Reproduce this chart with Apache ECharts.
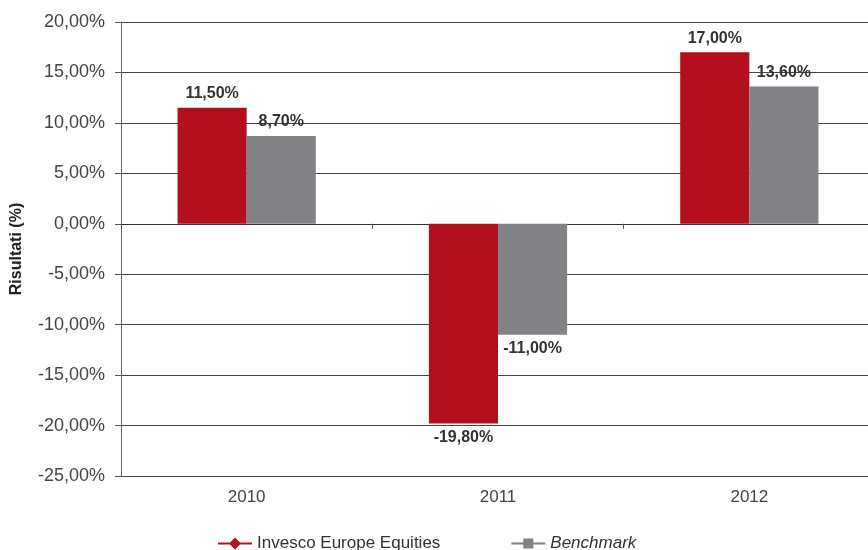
<!DOCTYPE html>
<html>
<head>
<meta charset="utf-8">
<script src="https://cdn.jsdelivr.net/npm/echarts@6/dist/echarts.min.js"></script>
<style>
  html, body { margin: 0; padding: 0; background: #fff; }
  #main { width: 868px; height: 550px; }
</style>
</head>
<body>
<div id="main"></div>
<script>
// dati
var years = ['2010', '2011', '2012']
var fundValues = [11.5, -19.8, 17.0]
var benchValues = [8.7, -11.0, 13.6]
var yTicks = { min: -25, max: 20, step: 5 }

var FONT = '"Liberation Sans", Arial, sans-serif'

function pct(v) {
  return v.toFixed(2).replace('.', ',') + '%'
}

// etichetta sopra per i positivi, sotto per i negativi
function withLabels(values) {
  return values.map(function (v) {
    return { value: v, label: { position: v >= 0 ? 'top' : 'bottom' } }
  })
}

var chart = echarts.init(document.getElementById('main'))

var barLabel = {
  show: true,
  distance: 6,
  fontFamily: FONT,
  fontSize: 16,
  fontWeight: 'bold',
  color: '#333',
  formatter: function (p) { return pct(p.value) },
}

var option = {
  animation: false,
  backgroundColor: '#fff',
  textStyle: { fontFamily: FONT },
  // il grafico originale esce un po' oltre il bordo destro
  grid: { left: 121, width: 754, top: 22, height: 454, outerBoundsMode: 'none' },
  legend: {
    left: 213,
    top: 530,
    itemWidth: 34,
    itemHeight: 12,
    itemGap: 71,
    textStyle: { fontFamily: FONT, fontSize: 17, color: '#333' },
    data: [
      { name: 'Invesco Europe Equities', icon: 'path://M0,5 L12,5 L17,0 L22,5 L34,5 L34,7 L22,7 L17,12 L12,7 L0,7 Z' },
      { name: 'Benchmark', icon: 'path://M0,5 L12,5 L12,1 L22,1 L22,5 L34,5 L34,7 L22,7 L22,11 L12,11 L12,7 L0,7 Z', textStyle: { fontStyle: 'italic' } },
    ],
  },
  xAxis: [
    {
      // asse sullo zero: solo linea e tacche
      type: 'category',
      data: years,
      position: 'bottom',
      axisLine: { show: true, onZero: true, lineStyle: { color: '#333', width: 1 } },
      axisTick: { show: true, length: 5, lineStyle: { color: '#555' } },
      axisLabel: { show: false },
      splitLine: { show: false },
    },
    {
      // etichette degli anni in basso
      type: 'category',
      data: years,
      position: 'bottom',
      axisLine: { show: false, onZero: false },
      axisTick: { show: false },
      axisLabel: { show: true, margin: 13, fontFamily: FONT, fontSize: 17, color: '#444' },
      splitLine: { show: false },
    },
  ],
  yAxis: {
    type: 'value',
    min: yTicks.min,
    max: yTicks.max,
    interval: yTicks.step,
    name: 'Risultati (%)',
    nameLocation: 'middle',
    nameGap: 96,
    nameTextStyle: { fontFamily: FONT, fontSize: 16, fontWeight: 'bold', color: '#222' },
    axisLine: { show: true, lineStyle: { color: '#666' } },
    axisTick: { show: true, length: 6, lineStyle: { color: '#555' } },
    axisLabel: {
      margin: 16,
      fontFamily: FONT,
      fontSize: 18,
      color: '#444',
      formatter: function (v) { return pct(v) },
    },
    splitLine: { show: true, lineStyle: { color: '#444', width: 1 } },
  },
  series: [
    {
      name: 'Invesco Europe Equities',
      type: 'bar',
      xAxisIndex: 0,
      barGap: '0%',
      barCategoryGap: '45%',
      itemStyle: { color: '#B30F1D' },
      label: barLabel,
      data: withLabels(fundValues),
    },
    {
      name: 'Benchmark',
      type: 'bar',
      xAxisIndex: 0,
      barGap: '0%',
      barCategoryGap: '45%',
      itemStyle: { color: '#818285' },
      label: barLabel,
      data: withLabels(benchValues),
    },
  ],
}

chart.setOption(option)

window.addEventListener('resize', function () {
  chart.resize()
})
</script>
</body>
</html>
